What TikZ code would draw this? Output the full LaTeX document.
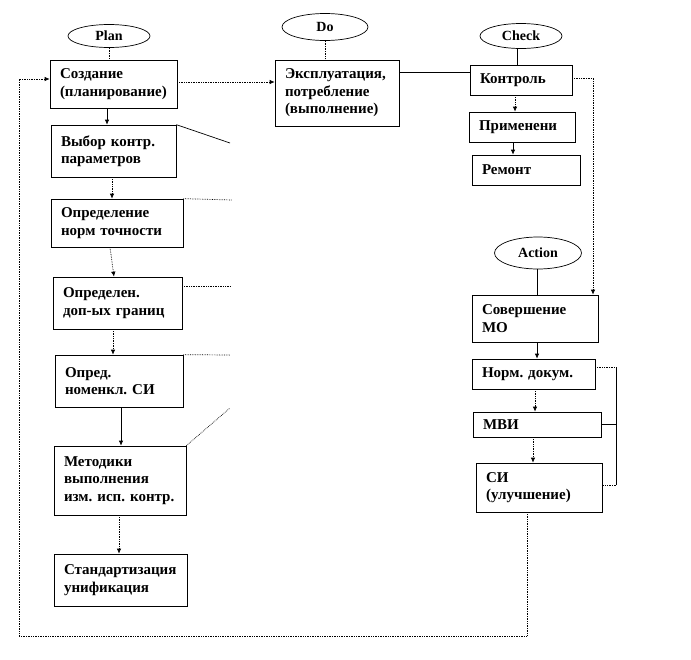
\documentclass[tikz,border=0pt]{standalone}
\usepackage{fontspec}
\setmainfont{Liberation Serif}
\usetikzlibrary{arrows.meta,shapes.geometric,calc}
\frenchspacing
\begin{document}
\begin{tikzpicture}[x=1pt,y=-1pt,
  box/.style={draw, line width=0.7pt, inner xsep=10pt, inner ysep=0pt, align=left,
    font=\fontsize{15}{17.5}\selectfont\bfseries},
  phase/.style={draw, ellipse, line width=0.7pt, inner sep=0pt,
    font=\fontsize{14}{17}\selectfont\bfseries},
  conn/.style={line width=0.7pt},
  arr/.style={conn, -{Latex[length=5pt,width=4.5pt]}},
  dot/.style={densely dotted}
]
\fill[white] (0,0) rectangle (691,659);
\useasboundingbox (0,0) rectangle (691,659);

% ellipses
\node[phase, minimum width=82pt, minimum height=23pt] (plan) at (109,36) {Plan};
\node[phase, minimum width=86pt, minimum height=27pt] (doel) at (325,27) {Do};
\node[phase, minimum width=82pt, minimum height=25pt] (check) at (521,36) {Check};
\node[phase, minimum width=87pt, minimum height=32pt] (action) at (538,253) {Action};

% plan column
\node[box, text width=107pt, minimum height=48pt] (b1) at (113.5,84) {Создание\\(планирование)};
\node[box, text width=105pt, minimum height=52pt] (b2) at (113.5,151) {\mbox{Выбор контр.}\\параметров};
\node[box, text width=112pt, minimum height=48pt] (b3) at (117,223) {Определение\\\mbox{норм точности}};
\node[box, text width=109pt, minimum height=52pt] (b4) at (117.5,303) {Определен.\\\mbox{доп-ых границ}};
\node[box, text width=108pt, minimum height=52pt] (b5) at (119,381) {Опред.\\\mbox{номенкл. СИ}};
\node[box, text width=112pt, minimum height=69pt] (b6) at (120,480.5) {Методики\\выполнения\\\mbox{изм. исп. контр.}};
\node[box, text width=113pt, minimum height=52pt] (b7) at (120.5,580) {Стандартизация\\унификация};

% do
\node[box, text width=104pt, minimum height=66pt] (do) at (337,93) {Эксплуатация,\\потребление\\(выполнение)};

% check column
\node[box, text width=82pt, minimum height=30pt] (ctrl) at (521,80) {Контроль};
\node[box, text width=86pt, minimum height=30pt] (prim) at (522,127) {Применени};
\node[box, text width=88pt, minimum height=30pt] (rem) at (526,170) {Ремонт};

% action column
\node[box, text width=106pt, minimum height=47pt] (sov) at (535,318.5) {Совершение\\МО};
\node[box, text width=103pt, minimum height=30pt] (norm) at (533.5,374) {\mbox{Норм. докум.}};
\node[box, text width=108pt, minimum height=25pt] (mvi) at (537,424.5) {МВИ};
\node[box, text width=106pt, minimum height=49pt] (si) at (539,487.5) {СИ\\(улучшение)};

% plan connectors
\draw[conn,dot] (plan.south) -- (plan.south |- b1.north);
\draw[arr] (b1.south -| 107,0) -- (b2.north -| 107,0);
\draw[arr,dot] (b2.south -| 112,0) -- (b3.north -| 112,0);
\draw[arr,dot] (b3.south -| 110,0) -- (b4.north -| 114,0);
\draw[arr,dot] (b4.south -| 113,0) -- (b5.north -| 113,0);
\draw[arr] (b5.south -| 121,0) -- (b6.north -| 121,0);
\draw[arr,dot] (b6.south -| 119,0) -- (b7.north -| 119,0);

% free lines from plan boxes
\coordinate (f2) at (230,143);
\coordinate (f3) at (232,200);
\coordinate (f4) at (230,286);
\coordinate (f5) at (230,355);
\coordinate (f6) at (230,408);
\draw[conn] (b2.north east) -- (f2);
\draw[conn,dot] (b3.north east) -- (f3);
\draw[conn,dot] (b4.east |- f4) -- (f4);
\draw[conn,dot] (b5.north east) -- (f5);
\draw[conn,dot] (b6.north east) -- (f6);

% do connectors
\draw[conn,dot] (doel.south) -- (doel.south |- do.north);
\draw[arr,dot] (b1.east |- 0,82) -- (do.west |- 0,82);
\draw[conn] (do.east |- 0,72) -- (ctrl.west |- 0,72);

% check connectors
\draw[conn] (check.south -| 517,0) -- (ctrl.north -| 517,0);
\draw[arr,dot] (ctrl.south -| 515,0) -- (prim.north -| 515,0);
\draw[arr] (prim.south -| 513,0) -- (rem.north -| 513,0);
\coordinate (c1) at (593,78);
\draw[arr,dot] (ctrl.east |- c1) -- (c1) -- (sov.north -| c1);

% action connectors
\draw[conn] (action.south -| 537,0) -- (sov.north -| 537,0);
\draw[arr] (sov.south -| 537,0) -- (norm.north -| 537,0);
\draw[arr,dot] (norm.south -| 535,0) -- (mvi.north -| 535,0);
\draw[arr,dot] (mvi.south -| 533,0) -- (si.north -| 533,0);

% bracket
\coordinate (k1) at (616,367);
\coordinate (k2) at (616,485);
\draw[conn,dot] (norm.east |- k1) -- (k1);
\draw[conn] (k1) -- (k2);
\draw[conn,dot] (k2) -- (si.east |- k2);
\draw[conn] (mvi.east) -- (mvi.east -| k1);

% feedback
\coordinate (g1) at (527,636);
\coordinate (g2) at (19,636);
\coordinate (g3) at (19,79);
\draw[arr,dot] (si.south -| g1) -- (g1) -- (g2) -- (g3) -- (b1.west |- g3);
\end{tikzpicture}
\end{document}
